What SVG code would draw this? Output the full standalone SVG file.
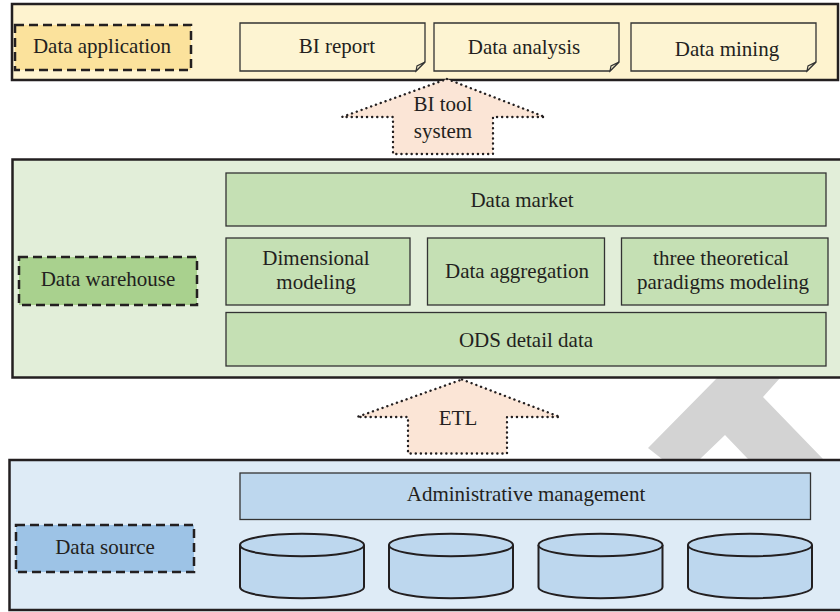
<svg xmlns="http://www.w3.org/2000/svg" width="840" height="612" viewBox="0 0 840 612" font-family="'Liberation Serif', 'DejaVu Serif', serif">
  <style>
    text { font-family: 'Liberation Serif', 'DejaVu Serif', serif; font-size: 21px; fill: #231f20; text-anchor: middle; }
    .panel { stroke: #231f20; stroke-width: 2.5; }
    .tag { stroke: #231f20; stroke-width: 2.5; stroke-dasharray: 9 5; }
    .box { stroke: #333; stroke-width: 1.3; }
    .note { fill: #fdf4d2; stroke: #333; stroke-width: 1.3; }
    .arrow { fill: #fbe5d6; stroke: #231f20; stroke-width: 2.4; stroke-dasharray: 0.1 5; stroke-linecap: round; stroke-linejoin: round; }
    .cyl { fill: #bdd7ee; stroke: #231f20; stroke-width: 2; }
  </style>

  <!-- watermark -->
  <polygon points="717,378 780,378 763,397 823,459 748,459 725,435 700,459 662,459 648,448" fill="#d3d3d3"/>

  <!-- Data application layer -->
  <g id="layer-application">
    <rect class="panel" x="12" y="4" width="826" height="76" fill="#fef3cf"/>
  </g>
  <g id="data-application">
    <rect class="tag" x="15" y="25" width="176" height="45" fill="#fbe29c"/>
    <text x="102" y="53">Data application</text>
  </g>
  <g id="bi-report">
    <path class="note" d="M240,23 H425 V62 L416,71 H240 Z"/>
    <path d="M425,62 L417,66 L416,71 Z" fill="#fdf4d2" stroke="#333" stroke-width="1.2"/>
    <text x="337" y="53">BI report</text>
  </g>
  <g id="data-analysis">
    <path class="note" d="M434,23 H619 V62 L610,71 H434 Z"/>
    <path d="M619,62 L611,66 L610,71 Z" fill="#fdf4d2" stroke="#333" stroke-width="1.2"/>
    <text x="524" y="54">Data analysis</text>
  </g>
  <g id="data-mining">
    <path class="note" d="M631,23 H816 V62 L807,71 H631 Z"/>
    <path d="M816,62 L808,66 L807,71 Z" fill="#fdf4d2" stroke="#333" stroke-width="1.2"/>
    <text x="727" y="56">Data mining</text>
  </g>

  <!-- Data warehouse layer -->
  <g id="layer-warehouse">
    <rect class="panel" x="12.5" y="159.5" width="830" height="218" fill="#e2eed9"/>
  </g>
  <g id="data-warehouse">
    <rect class="tag" x="19" y="257" width="178" height="48" fill="#a9d18e"/>
    <text x="108" y="286">Data warehouse</text>
  </g>
  <g id="data-market">
    <rect class="box" x="226" y="173" width="600" height="53" fill="#c5e0b4"/>
    <text x="522" y="207">Data market</text>
  </g>
  <g id="dimensional-modeling">
    <rect class="box" x="226" y="238" width="184" height="67" fill="#c5e0b4"/>
    <text x="316" y="265">Dimensional</text>
    <text x="316" y="289">modeling</text>
  </g>
  <g id="data-aggregation">
    <rect class="box" x="427.5" y="238" width="177" height="67" fill="#c5e0b4"/>
    <text x="517" y="278">Data aggregation</text>
  </g>
  <g id="three-paradigms">
    <rect class="box" x="621.5" y="238" width="206.5" height="67" fill="#c5e0b4"/>
    <text x="721" y="265">three theoretical</text>
    <text x="723" y="289">paradigms modeling</text>
  </g>
  <g id="ods-detail">
    <rect class="box" x="226" y="312.5" width="600" height="53.5" fill="#c5e0b4"/>
    <text x="526" y="347">ODS detail data</text>
  </g>

  <!-- Data source layer -->
  <g id="layer-source">
    <rect class="panel" x="9.5" y="460" width="833" height="150" fill="#deebf6"/>
  </g>
  <g id="data-source">
    <rect class="tag" x="16" y="525" width="178" height="47" fill="#9dc3e6"/>
    <text x="105" y="554">Data source</text>
  </g>
  <g id="administrative-management">
    <rect class="box" x="240" y="473" width="570.5" height="46.5" fill="#bdd7ee"/>
    <text x="526" y="501">Administrative management</text>
  </g>
  <g id="db-1">
    <path class="cyl" d="M240,545 V587 A62,11.3 0 0 0 364,587 V545"/>
    <ellipse class="cyl" cx="302" cy="545" rx="62" ry="11.3"/>
  </g>
  <g id="db-2">
    <path class="cyl" d="M389,545 V587 A62,11.3 0 0 0 513,587 V545"/>
    <ellipse class="cyl" cx="451" cy="545" rx="62" ry="11.3"/>
  </g>
  <g id="db-3">
    <path class="cyl" d="M538.5,545 V587 A62,11.3 0 0 0 662.5,587 V545"/>
    <ellipse class="cyl" cx="600.5" cy="545" rx="62" ry="11.3"/>
  </g>
  <g id="db-4">
    <path class="cyl" d="M688,545 V587 A62,11.3 0 0 0 812,587 V545"/>
    <ellipse class="cyl" cx="750" cy="545" rx="62" ry="11.3"/>
  </g>

  <!-- connectors (block arrows) -->
  <g id="connectors">
    <g id="bi-tool-arrow">
      <polygon class="arrow" points="447,79 545,117 493,117 493,154 393,154 393,117 342,117"/>
      <text x="443" y="111">BI tool</text>
      <text x="443" y="138">system</text>
    </g>
    <g id="etl-arrow">
      <polygon class="arrow" points="462,379.5 560,417 507,417 507,453.5 408,453.5 408,417 357,417"/>
      <text x="458" y="425">ETL</text>
    </g>
  </g>
</svg>
